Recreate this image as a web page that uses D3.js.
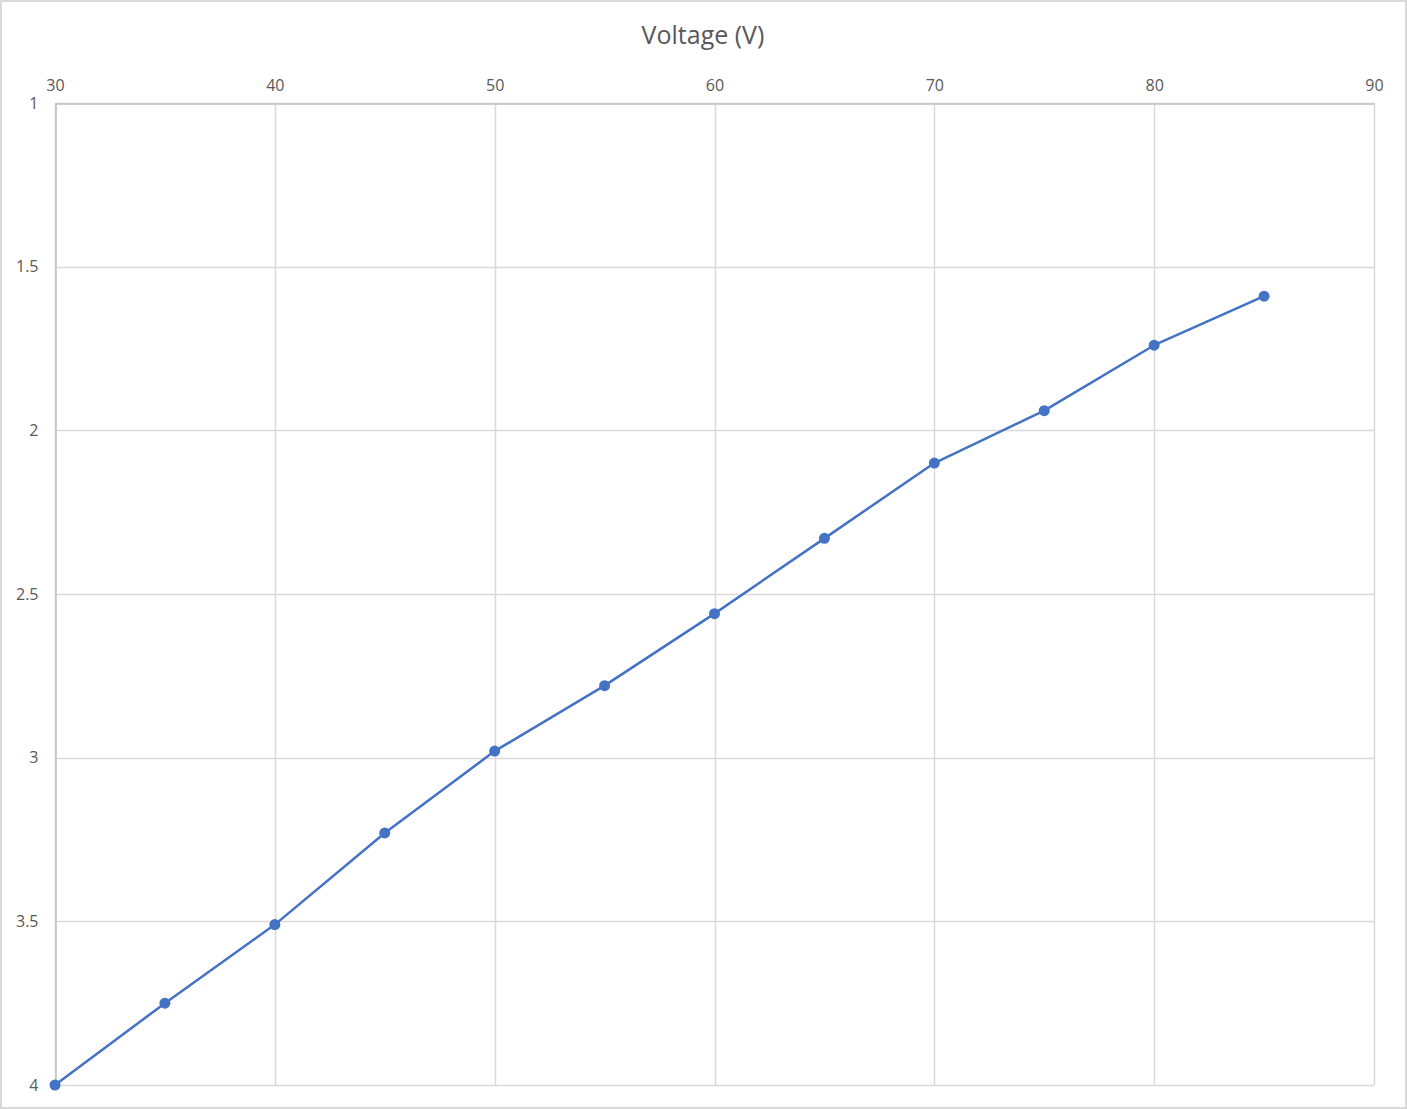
<!DOCTYPE html>
<html>
<head>
<meta charset="utf-8">
<script src="https://cdn.jsdelivr.net/npm/d3@7"></script>
<style>
  html, body { margin: 0; padding: 0; background: #fff; }
  svg { display: block; }
  text { font-family: "Open Sans", "Noto Sans", sans-serif; fill: #595959; }
</style>
</head>
<body>
<svg id="chart" width="1407" height="1109"></svg>
<script>
const voltage = [30, 35, 40, 45, 50, 55, 60, 65, 70, 75, 80, 85];
const values = [4.0, 3.75, 3.51, 3.23, 2.98, 2.78, 2.56, 2.33, 2.10, 1.94, 1.74, 1.59];
const xTicks = [30, 40, 50, 60, 70, 80, 90];
const yTicks = [1, 1.5, 2, 2.5, 3, 3.5, 4];
const xTitle = "Voltage (V)";

const W = 1407, H = 1109;
const m = { left: 55, right: 1374, top: 103, bottom: 1085 };
const svg = d3.select("#chart");

svg.append("rect").attr("x", 1).attr("y", 1).attr("width", W - 2).attr("height", H - 2)
  .attr("fill", "#fff").attr("stroke", "#d9d9d9").attr("stroke-width", 2);

const x = d3.scaleLinear().domain([30, 90]).range([m.left, m.right]);
const y = d3.scaleLinear().domain([1, 4]).range([m.top, m.bottom]);

// gridlines
svg.append("g").selectAll("line.v").data(xTicks).join("line")
  .attr("x1", d => Math.round(x(d)) + 0.5).attr("x2", d => Math.round(x(d)) + 0.5)
  .attr("y1", m.top).attr("y2", m.bottom)
  .attr("stroke", "#d9d9d9").attr("stroke-width", 1.5);
svg.append("g").selectAll("line.h").data(yTicks).join("line")
  .attr("y1", d => Math.round(y(d)) + 0.5).attr("y2", d => Math.round(y(d)) + 0.5)
  .attr("x1", m.left).attr("x2", m.right)
  .attr("stroke", "#d9d9d9").attr("stroke-width", 1.5);

// axes (top and left)
const xAxis = d3.axisTop(x).tickValues(xTicks).tickSize(0).tickPadding(13).tickFormat(d3.format("d"));
const gx = svg.append("g").attr("transform", `translate(0,${m.top + 0.5})`).call(xAxis);
gx.select(".domain").attr("stroke", "#bfbfbf").attr("stroke-width", 1.5);
gx.selectAll("text").attr("font-size", 16).attr("fill", "#595959")
  .attr("font-family", "'Open Sans', sans-serif");

const yAxis = d3.axisLeft(y).tickValues(yTicks).tickSize(0).tickPadding(17).tickFormat(d => String(d));
const gy = svg.append("g").attr("transform", `translate(${m.left + 0.5},0)`).call(yAxis);
gy.select(".domain").attr("stroke", "#bfbfbf").attr("stroke-width", 1.5);
gy.selectAll("text").attr("font-size", 16).attr("fill", "#595959")
  .attr("font-family", "'Open Sans', sans-serif");

// title
svg.append("text").attr("x", 703).attr("y", 44).attr("text-anchor", "middle")
  .attr("font-size", 25).attr("fill", "#595959").text(xTitle);

// series
const pts = voltage.map((v, i) => [v, values[i]]);
svg.append("path").datum(pts)
  .attr("fill", "none").attr("stroke", "#4472c4").attr("stroke-width", 2.5)
  .attr("stroke-linejoin", "round")
  .attr("d", d3.line().x(d => x(d[0])).y(d => y(d[1])));
svg.append("g").selectAll("circle").data(pts).join("circle")
  .attr("cx", d => x(d[0])).attr("cy", d => y(d[1])).attr("r", 5.5)
  .attr("fill", "#4472c4");
</script>
</body>
</html>
